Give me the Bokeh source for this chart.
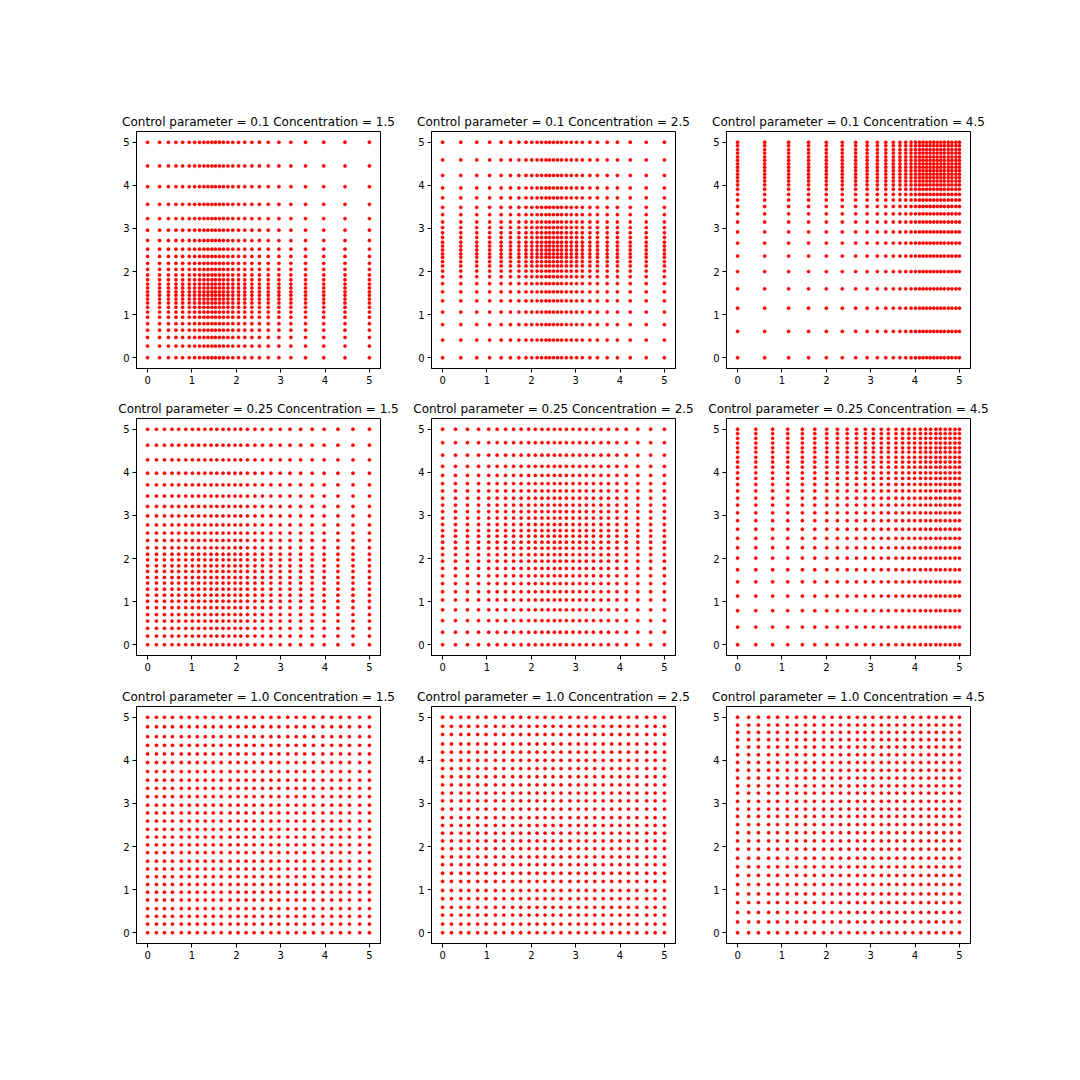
import numpy as np
from bokeh.plotting import figure
from bokeh.layouts import column, row
from bokeh.models import FixedTicker, Range1d, ColumnDataSource
from bokeh.embed import file_html
from bokeh.resources import INLINE

# ---- data ----
control_params = [0.1, 0.25, 1.0]
concentrations = [1.5, 2.5, 4.5]
tick_values = [0, 1, 2, 3, 4, 5]

# 1-D grid node positions (same list used for x and y in each panel)
g_01_15 = [0.00, 0.27, 0.47, 0.64, 0.79, 0.94, 1.06, 1.17, 1.27, 1.36, 1.45, 1.53, 1.62, 1.71, 1.81,
           1.92, 2.05, 2.19, 2.35, 2.52, 2.72, 2.96, 3.23, 3.56, 3.97, 4.45, 5.00]
g_01_25 = [0.00, 0.41, 0.77, 1.06, 1.32, 1.53, 1.72, 1.88, 2.01, 2.13, 2.23, 2.33, 2.41, 2.50, 2.59,
           2.68, 2.79, 2.90, 3.02, 3.15, 3.32, 3.49, 3.71, 3.94, 4.23, 4.59, 5.00]
g_01_45 = [0.00, 0.61, 1.15, 1.60, 2.00, 2.36, 2.66, 2.92, 3.15, 3.34, 3.51, 3.66, 3.79, 3.91, 4.01,
           4.10, 4.18, 4.26, 4.34, 4.42, 4.50, 4.58, 4.66, 4.75, 4.83, 4.92, 5.00]
g_025_15 = [0.00, 0.20, 0.38, 0.55, 0.70, 0.86, 1.01, 1.15, 1.29, 1.43, 1.56, 1.70, 1.83, 1.97, 2.10,
            2.25, 2.42, 2.59, 2.78, 2.99, 3.21, 3.45, 3.71, 3.98, 4.29, 4.63, 5.00]
g_025_25 = [0.00, 0.29, 0.56, 0.81, 1.04, 1.23, 1.42, 1.60, 1.77, 1.94, 2.09, 2.24, 2.38, 2.52, 2.65,
            2.79, 2.94, 3.09, 3.24, 3.40, 3.57, 3.74, 3.93, 4.14, 4.40, 4.69, 5.00]
g_025_45 = [0.00, 0.41, 0.79, 1.13, 1.46, 1.74, 2.01, 2.25, 2.47, 2.68, 2.88, 3.06, 3.24, 3.40, 3.57,
            3.72, 3.86, 3.99, 4.12, 4.24, 4.35, 4.47, 4.57, 4.68, 4.79, 4.90, 5.00]
g_1_15 = [0.00, 0.20, 0.38, 0.56, 0.76, 0.94, 1.12, 1.30, 1.48, 1.66, 1.86, 2.04, 2.22, 2.40, 2.59,
          2.78, 2.96, 3.16, 3.35, 3.54, 3.74, 3.95, 4.15, 4.35, 4.55, 4.78, 5.00]
g_1_25 = [0.00, 0.20, 0.41, 0.59, 0.79, 0.98, 1.19, 1.38, 1.58, 1.76, 1.95, 2.13, 2.31, 2.49, 2.67,
          2.87, 3.06, 3.24, 3.43, 3.62, 3.81, 4.00, 4.19, 4.38, 4.60, 4.79, 5.00]
g_1_45 = [0.00, 0.25, 0.47, 0.70, 0.90, 1.12, 1.33, 1.53, 1.73, 1.94, 2.13, 2.32, 2.51, 2.70, 2.87,
          3.05, 3.24, 3.41, 3.59, 3.77, 3.95, 4.13, 4.31, 4.48, 4.65, 4.82, 5.00]

grids = {
    (0.1, 1.5): g_01_15, (0.1, 2.5): g_01_25, (0.1, 4.5): g_01_45,
    (0.25, 1.5): g_025_15, (0.25, 2.5): g_025_25, (0.25, 4.5): g_025_45,
    (1.0, 1.5): g_1_15, (1.0, 2.5): g_1_25, (1.0, 4.5): g_1_45,
}

# ---- layout ----
FRAME_W = 244
FRAME_H = 237
left_borders = [136, 31, 31]
right_borders = [20, 20, 20]
top_borders = [131, 25, 25]
bottom_borders = [25, 26, 40]
FONT = "DejaVu Sans"

rows = []
for i, cp in enumerate(control_params):
    figs = []
    for j, c in enumerate(concentrations):
        g = np.array(grids[(cp, c)])
        X, Y = np.meshgrid(g, g)
        src = ColumnDataSource(dict(x=X.ravel(), y=Y.ravel()))
        p = figure(frame_width=FRAME_W, frame_height=FRAME_H,
                   x_range=Range1d(-0.25, 5.25), y_range=Range1d(-0.25, 5.25),
                   output_backend="svg", toolbar_location=None,
                   min_border_left=left_borders[j], min_border_right=right_borders[j],
                   min_border_top=top_borders[i], min_border_bottom=bottom_borders[i],
                   title=f"Control parameter = {cp} Concentration = {c}")
        p.scatter("x", "y", source=src, marker="circle", size=3.3,
                  fill_color="#ff0000", line_color="#ff0000", line_width=0.4)
        p.title.text_font = FONT
        p.title.text_font_size = "12px"
        p.title.text_font_style = "normal"
        p.title.text_color = "black"
        p.title.align = "center"
        p.title.standoff = 6
        for ax in (p.xaxis[0], p.yaxis[0]):
            ax.ticker = FixedTicker(ticks=tick_values)
            ax.major_label_text_font = FONT
            ax.major_label_text_font_size = "10px"
            ax.major_label_text_color = "black"
            ax.major_tick_out = 4
            ax.major_tick_in = 0
            ax.major_tick_line_color = "black"
            ax.minor_tick_line_color = None
            ax.axis_line_color = "black"
            ax.major_label_standoff = 3
        p.grid.visible = False
        p.outline_line_color = "black"
        p.outline_line_alpha = 1.0
        p.outline_line_width = 1
        p.background_fill_color = "white"
        p.border_fill_color = "white"
        figs.append(p)
    rows.append(row(*figs, spacing=0))

layout = column(*rows, spacing=0)
open("out.html", "w").write(file_html(layout, INLINE))
